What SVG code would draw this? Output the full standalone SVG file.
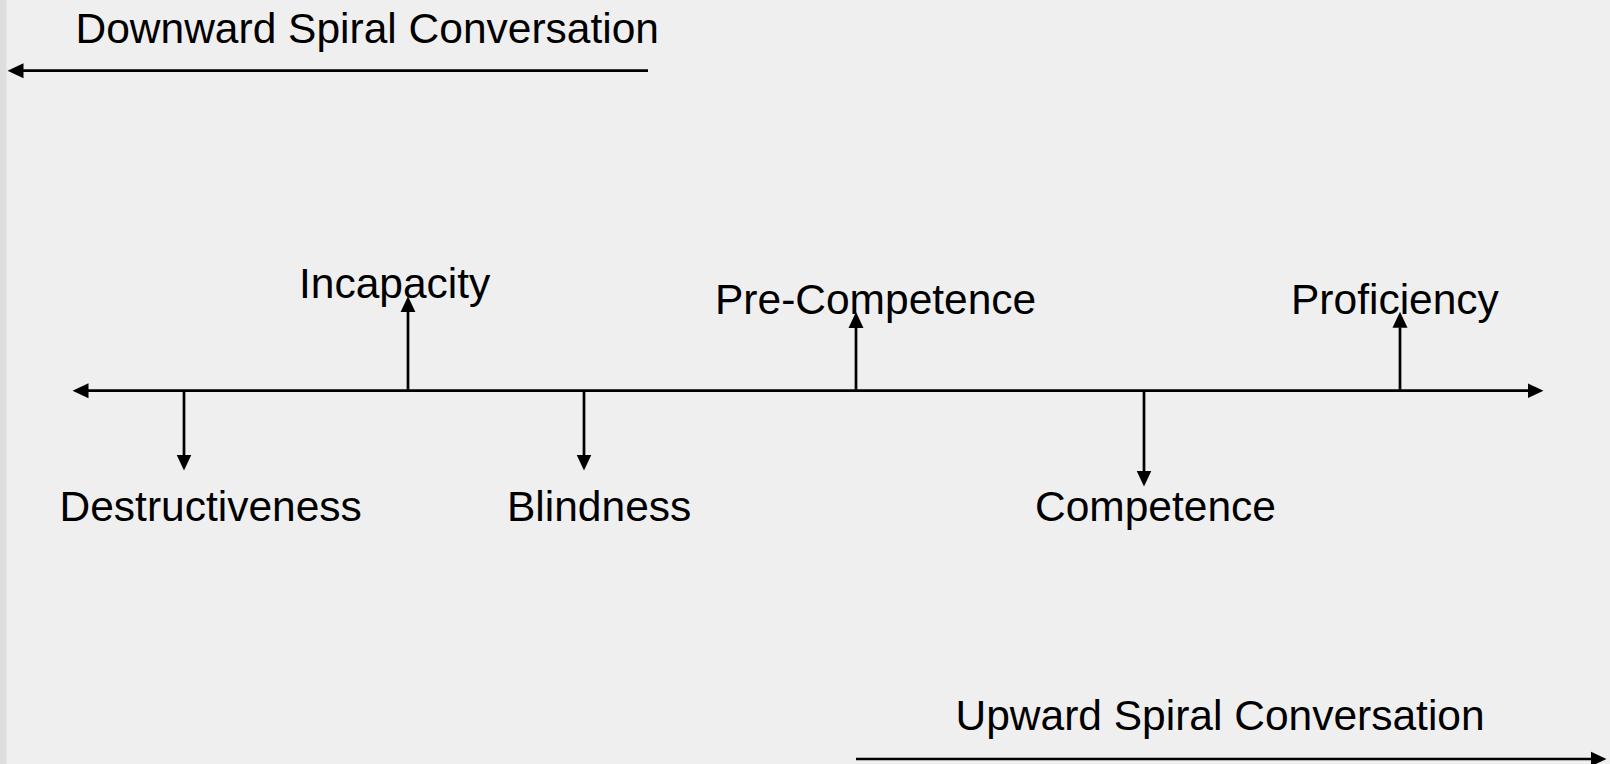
<svg xmlns="http://www.w3.org/2000/svg" width="1610" height="764" viewBox="0 0 1610 764">
<style>
.t{font-family:"Liberation Sans",Arial,sans-serif;font-size:42.5px;fill:#000}
.c{stroke:#000;stroke-width:2.7;fill:none}
</style>
<defs>
<marker id="ah" markerUnits="userSpaceOnUse" markerWidth="17" markerHeight="17" viewBox="0 0 17 17" refX="0.5" refY="8.5" orient="auto-start-reverse">
<path d="M0,1 L16,8.5 L0,16 Z" fill="#000"/>
</marker>
</defs>
<rect x="0" y="0" width="1610" height="764" fill="#efefef"/>
<rect x="0" y="0" width="6.5" height="764" fill="#dedede"/>
<g id="connectors">
<line class="c" x1="648" y1="70.7" x2="23" y2="70.7" marker-end="url(#ah)"/>
<line class="c" x1="88" y1="390.7" x2="1528" y2="390.7" marker-start="url(#ah)" marker-end="url(#ah)"/>
<line class="c" x1="184" y1="390.7" x2="184" y2="455" marker-end="url(#ah)"/>
<line class="c" x1="408" y1="390.7" x2="408" y2="311.7" marker-end="url(#ah)"/>
<line class="c" x1="584" y1="390.7" x2="584" y2="455" marker-end="url(#ah)"/>
<line class="c" x1="856" y1="390.7" x2="856" y2="327.5" marker-end="url(#ah)"/>
<line class="c" x1="1144" y1="390.7" x2="1144" y2="471" marker-end="url(#ah)"/>
<line class="c" x1="1400" y1="390.7" x2="1400" y2="327.3" marker-end="url(#ah)"/>
<line class="c" x1="856" y1="759" x2="1591" y2="759" marker-end="url(#ah)"/>
</g>
<g id="downward"><text class="t" x="75.5" y="43">Downward Spiral Conversation</text></g>
<g id="incapacity"><text class="t" x="299" y="298">Incapacity</text></g>
<g id="precompetence"><text class="t" x="715" y="313.5">Pre-Competence</text></g>
<g id="proficiency"><text class="t" x="1291" y="314">Proficiency</text></g>
<g id="destructiveness"><text class="t" x="59.5" y="521">Destructiveness</text></g>
<g id="blindness"><text class="t" x="507" y="521">Blindness</text></g>
<g id="competence"><text class="t" x="1035" y="521">Competence</text></g>
<g id="upward"><text class="t" x="955.5" y="730">Upward Spiral Conversation</text></g>
</svg>
